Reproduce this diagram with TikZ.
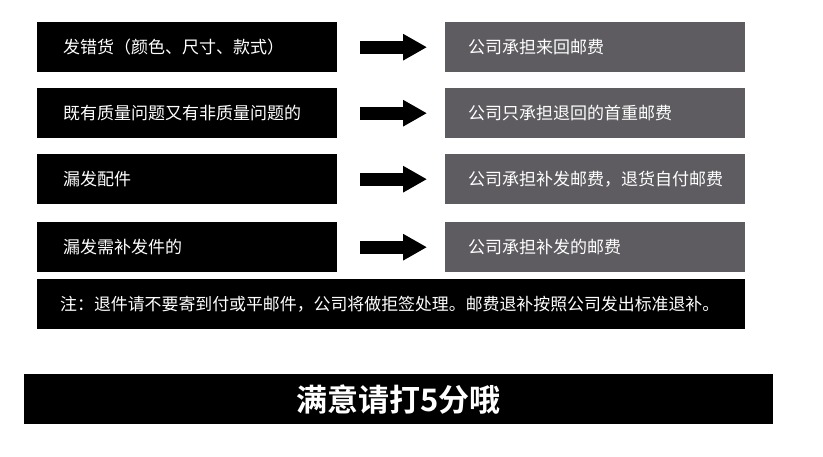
\documentclass[tikz,border=0pt]{standalone}
\usepackage{fontspec}
\setmainfont{Noto Sans CJK SC}
\newfontfamily\cjkbold{Noto Sans CJK SC Bold}
\usetikzlibrary{arrows.meta}
\definecolor{boxgray}{HTML}{5E5C60}
\tikzset{
  leftbox/.style={fill=black, text=white, anchor=north west, minimum width=300pt, minimum height=50pt,
    text width=248pt, align=left, inner xsep=26pt, inner ysep=0pt, font=\fontsize{17}{18}\selectfont},
  rightbox/.style={fill=boxgray, text=white, anchor=north west, minimum width=300pt, minimum height=50pt,
    text width=254pt, align=left, inner xsep=23pt, inner ysep=0pt, font=\fontsize{17}{18}\selectfont},
  notebox/.style={fill=black, text=white, anchor=north west, minimum width=708pt, minimum height=50pt,
    text width=662pt, align=left, inner xsep=23pt, inner ysep=0pt, font=\fontsize{16.9}{18}\selectfont},
  banner/.style={fill=black, text=white, anchor=north west, minimum width=749pt, minimum height=50pt,
    inner sep=0pt, font=\cjkbold\fontsize{31}{32}\selectfont},
  bigarrow/.style={line width=13pt, -{Triangle[length=24pt,width=25pt]}},
}
\begin{document}
\begin{tikzpicture}[x=1pt,y=-1pt]
\useasboundingbox[fill=white] (0,0) rectangle (823,457);
\node[leftbox]  (l1) at (37,22)  {发错货（颜色、尺寸、款式）};
\node[rightbox] (r1) at (445,22) {公司承担来回邮费};
\node[leftbox]  (l2) at (37,88)  {既有质量问题又有非质量问题的};
\node[rightbox] (r2) at (445,88) {公司只承担退回的首重邮费};
\node[leftbox]  (l3) at (37,154) {漏发配件};
\node[rightbox] (r3) at (445,154) {公司承担补发邮费，退货自付邮费};
\node[leftbox]  (l4) at (37,222) {漏发需补发件的};
\node[rightbox] (r4) at (445,222) {公司承担补发的邮费};
\node[notebox]  (n)  at (37,279) {注：退件请不要寄到付或平邮件，公司将做拒签处理。邮费退补按照公司发出标准退补。};
\node[banner]   (b)  at (24,374) {满意请打5分哦};
\foreach \i in {1,2,3,4}{
  \draw[bigarrow] ([xshift=23pt]l\i.east) -- ([xshift=-18pt]r\i.west);
}
\end{tikzpicture}
\end{document}
